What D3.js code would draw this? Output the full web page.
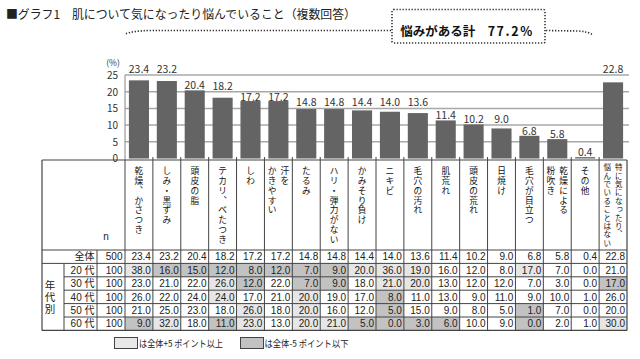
<!DOCTYPE html>
<html><head><meta charset="utf-8">
<script src="https://cdn.jsdelivr.net/npm/d3@7/dist/d3.min.js"></script>
<style>body{margin:0;background:#fff}svg{display:block}</style>
</head><body><svg id="c" width="640" height="359"></svg>
<script>
// ---------- data ----------
const titleText = "■グラフ1　肌について気になったり悩んでいること（複数回答）";
const summaryLabel = "悩みがある計";
const summaryValue = "77.2%";
const categories = ["乾燥、かさつき","しみ・黒ずみ","頭皮の脂","テカリ、べたつき","しわ","汗を|かきやすい","たるみ","ハリ・弾力がない","かみそり負け","ニキビ","毛穴の汚れ","肌荒れ","頭皮の荒れ","日焼け","毛穴が目立つ","乾燥による|粉吹き","その他","特に気になったり、|悩んでいることはない"];
const totalValues = [23.4,23.2,20.4,18.2,17.2,17.2,14.8,14.8,14.4,14.0,13.6,11.4,10.2,9.0,6.8,5.8,0.4,22.8];
const totalLabel = "全体";
const totalN = 500;
const ageGroups = ["20 代","30 代","40 代","50 代","60 代"];
const ageN = [100,100,100,100,100];
const age20 = [38.0,16.0,15.0,12.0,8.0,12.0,7.0,9.0,20.0,36.0,19.0,16.0,12.0,8.0,17.0,7.0,0.0,21.0];
const age30 = [23.0,21.0,22.0,26.0,12.0,22.0,7.0,9.0,18.0,21.0,20.0,13.0,12.0,12.0,7.0,3.0,0.0,17.0];
const age40 = [26.0,22.0,24.0,24.0,17.0,21.0,20.0,19.0,17.0,8.0,11.0,13.0,9.0,11.0,9.0,10.0,1.0,26.0];
const age50 = [21.0,25.0,23.0,18.0,26.0,18.0,20.0,16.0,12.0,5.0,15.0,9.0,8.0,5.0,1.0,7.0,0.0,20.0];
const age60 = [9.0,32.0,18.0,11.0,23.0,13.0,20.0,21.0,5.0,0.0,3.0,6.0,10.0,9.0,0.0,2.0,1.0,30.0];
const ageValues = [age20, age30, age40, age50, age60];
const yTicks = [0,5,10,15,20,25];
const yUnit = "(%)";
const nLabel = "n";
const groupLabel = "年代別";
const legendHigh = "は全体+5 ポイント以上";
const legendLow = "は全体-5 ポイント以下";
const threshold = 5;

// ---------- drawing ----------
const svg = d3.select("#c");
const JP = "'Noto Sans CJK JP','Noto Sans',sans-serif";
const TB = "'Liberation Sans','Noto Sans CJK JP',sans-serif";
const x0 = 125, x1 = 627;
const col = d3.scaleBand().domain(d3.range(categories.length)).range([x0, x1]);
const xb = d3.scaleBand().domain(d3.range(categories.length)).range([x0, x1]).paddingInner(0.28).paddingOuter(0.14);
const y = d3.scaleLinear().domain([0, 25]).range([158.5, 75]);

// vertical text: one text element per character, stacked top to bottom
const smallKana = "っゃゅょぁぃぅぇぉッャュョ";
function vtext(g, cx, y0, str, size, adv, fill){
  [...str].forEach((ch, k) => {
    let c = ch, dx = 0, dy = 0;
    if (ch === "、") c = "\uFE11";
    if (smallKana.includes(ch)) { dx = size * 0.12; dy = -size * 0.12; }
    g.append("text").attr("font-family", TB).attr("font-size", size)
      .attr("text-anchor", "middle").attr("fill", fill || "#111")
      .attr("x", cx + dx).attr("y", y0 + k * adv + adv * 0.86 + dy).text(c);
  });
}

// title
svg.append("text").attr("x", 6).attr("y", 19).attr("font-family", JP).attr("font-size", 12.2)
  .attr("textLength", 350).attr("lengthAdjust", "spacingAndGlyphs")
  .attr("fill", "#222").text(titleText);

// summary box with dotted connectors
const dot = {stroke: "#333", "stroke-width": 1.6, "stroke-dasharray": "1.3,1.7", fill: "none"};
function applyAttrs(sel, o){ for (const k in o) sel.attr(k, o[k]); return sel; }
applyAttrs(svg.append("rect").attr("x", 392).attr("y", 9.5).attr("width", 153).attr("height", 33.5).attr("rx", 1.5), dot);
applyAttrs(svg.append("path").attr("d", "M391,30.5 L150,30.5 Q133,30.8 125,34"), dot);
applyAttrs(svg.append("path").attr("d", "M546,30.5 L578,31 Q588,31.5 593,35"), dot);
const st = svg.append("text").attr("x", 467).attr("y", 36).attr("text-anchor", "middle")
  .attr("font-family", JP).attr("font-size", 12.5).attr("font-weight", "bold").attr("fill", "#111");
st.append("tspan").text(summaryLabel + "　");
st.append("tspan").attr("letter-spacing", 1.6).text(summaryValue);

// gridlines
svg.selectAll("line.grid").data(yTicks.filter(t => t > 0)).join("line")
  .attr("x1", x0).attr("x2", 629).attr("y1", d => y(d)).attr("y2", d => y(d))
  .attr("stroke", "#a8a8a8").attr("stroke-width", 1.5);
svg.append("line").attr("x1", x0).attr("x2", x0).attr("y1", y(25)).attr("y2", 160)
  .attr("stroke", "#999").attr("stroke-width", 1.2);

// y tick labels
svg.selectAll("text.yt").data(yTicks).join("text")
  .attr("x", 118).attr("y", d => y(d) + 3.8).attr("text-anchor", "end")
  .attr("font-family", JP).attr("font-size", 10).attr("fill", "#333").text(d => d);
svg.append("text").attr("x", 113).attr("y", y(25) - 9).attr("text-anchor", "middle")
  .attr("font-family", JP).attr("font-size", 8.5).attr("fill", "#333").text(yUnit);

// bars
svg.selectAll("rect.bar").data(totalValues).join("rect")
  .attr("x", (d, i) => xb(i)).attr("width", xb.bandwidth())
  .attr("y", d => y(d)).attr("height", d => y(0) - y(d)).attr("fill", "#646464");

// bar labels, placed to avoid gridlines
const gridYs = yTicks.filter(t => t > 0).map(t => y(t));
function labelCenter(v){
  const top = y(v);
  let c = top - 5;
  let g = gridYs.reduce((a, b) => Math.abs(b - c) < Math.abs(a - c) ? b : a);
  if (Math.abs(c - g) < 4.5) {
    c = (g + 5 <= top - 3.5) ? g + 5 : g - 6;
  }
  return c;
}
svg.selectAll("text.bl").data(totalValues).join("text")
  .attr("x", (d, i) => xb(i) + xb.bandwidth() / 2).attr("y", d => labelCenter(d) + 4)
  .attr("text-anchor", "middle").attr("font-family", JP).attr("font-size", 10.5)
  .attr("fill", "#333").text(d => d.toFixed(1));

// ---------- table ----------
const tTop = 160, hBottom = 250, rowH = 13.4;
const nRows = 1 + ageGroups.length;
const tBottom = hBottom + rowH * nRows;
const xL = 42, xAge = 64, xN = 97;
const lineC = "#444";
const tbl = svg.append("g");

// cell shading
ageValues.forEach((row, r) => {
  row.forEach((v, i) => {
    const diff = v - totalValues[i];
    let f = null;
    if (diff >= threshold) f = "#e6e6e6";
    else if (diff <= -threshold) f = "#c2c2c2";
    if (f) tbl.append("rect").attr("x", col(i)).attr("y", hBottom + rowH * (r + 1))
      .attr("width", col.bandwidth()).attr("height", rowH).attr("fill", f);
  });
});

function hline(xa, xb2, yy, w){ tbl.append("line").attr("x1", xa).attr("x2", xb2).attr("y1", yy).attr("y2", yy).attr("stroke", lineC).attr("stroke-width", w || 1); }
function vline(xx, ya, yb2, w){ tbl.append("line").attr("x1", xx).attr("x2", xx).attr("y1", ya).attr("y2", yb2).attr("stroke", lineC).attr("stroke-width", w || 1); }

hline(xL, x1, tTop, 1.2);
hline(xL, x1, hBottom);
hline(xL, x1, hBottom + rowH);
for (let r = 2; r < nRows; r++) hline(xAge, x1, hBottom + rowH * r);
hline(xL, x1, tBottom, 1.2);
vline(xL, tTop, tBottom, 1.2);
vline(xAge, hBottom + rowH, tBottom);
vline(xN, hBottom, tBottom);
for (let i = 0; i <= categories.length; i++) {
  const xx = i < categories.length ? col(i) : x1;
  vline(xx, i === 0 || i === categories.length ? tTop : 157, tBottom, i === categories.length ? 1.2 : 1);
}

// header labels (vertical)
categories.forEach((c, i) => {
  const lines = c.split("|");
  const cx = col(i) + col.bandwidth() / 2;
  const small = c.length > 14;
  const gap = small ? 11.5 : 12.8;
  lines.forEach((ln, k) => {
    const xx = cx + ((lines.length - 1) / 2 - k) * gap;
    if (small) vtext(tbl, xx, 163, ln, 7.5, 8.4);
    else vtext(tbl, xx, 166, ln, 8.7, 9.75);
  });
});
tbl.append("text").attr("x", 106).attr("y", 240).attr("text-anchor", "middle")
  .attr("font-family", TB).attr("font-size", 10).attr("fill", "#222").text(nLabel);

// rows
const rowFont = 10;
function rowText(xx, yy, t, anchor){
  tbl.append("text").attr("x", xx).attr("y", yy).attr("text-anchor", anchor || "end")
    .attr("font-family", TB).attr("font-size", rowFont).attr("fill", "#222").text(t);
}
const allRows = [{label: totalLabel, n: totalN, vals: totalValues}]
  .concat(ageGroups.map((g, r) => ({label: g, n: ageN[r], vals: ageValues[r]})));
allRows.forEach((row, r) => {
  const yy = hBottom + rowH * r + rowH / 2 + 3.6;
  rowText(xN - 2.5, yy, row.label);
  rowText(x0 - 2.5, yy, row.n);
  row.vals.forEach((v, i) => rowText(col(i) + col.bandwidth() - 2, yy, v.toFixed(1)));
});
vtext(tbl, 50, 279, groupLabel, 10.5, 12, "#222");

// legend
const lg = svg.append("g");
lg.append("rect").attr("x", 114.5).attr("y", 337.5).attr("width", 23).attr("height", 11)
  .attr("fill", "#e8e8e8").attr("stroke", "#444");
lg.append("text").attr("x", 139).attr("y", 346.5).attr("font-family", JP).attr("font-size", 9.5)
  .attr("textLength", 84).attr("lengthAdjust", "spacingAndGlyphs")
  .attr("fill", "#222").text(legendHigh);
lg.append("rect").attr("x", 240.5).attr("y", 337.5).attr("width", 23).attr("height", 11)
  .attr("fill", "#c2c2c2").attr("stroke", "#444");
lg.append("text").attr("x", 264.5).attr("y", 346.5).attr("font-family", JP).attr("font-size", 9.5)
  .attr("textLength", 84).attr("lengthAdjust", "spacingAndGlyphs")
  .attr("fill", "#222").text(legendLow);
</script></body></html>
